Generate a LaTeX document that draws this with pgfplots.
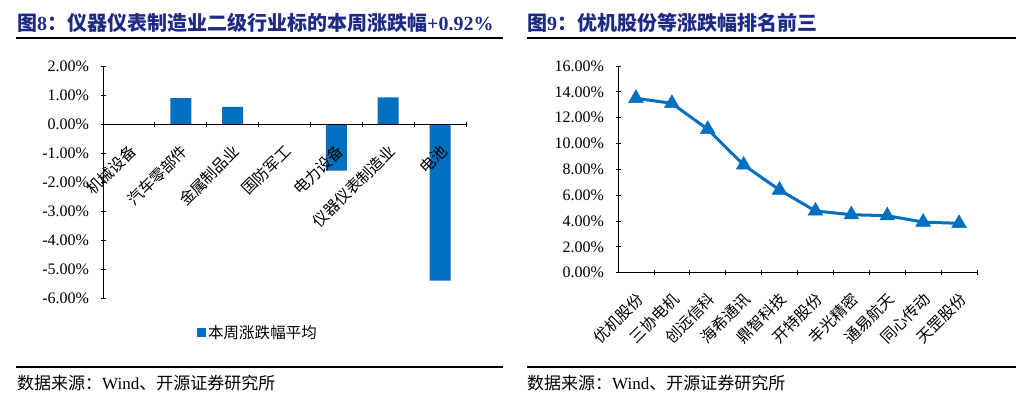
\documentclass[border=0pt]{standalone}
\usepackage{fontspec}
\setmainfont{Liberation Serif}
\newfontfamily\cjk{Noto Sans CJK SC}
\usepackage{pgfplots}
\pgfplotsset{compat=1.18}

\definecolor{barblue}{HTML}{0070C0}
\definecolor{titleblue}{HTML}{1F2A86}

\pgfplotsset{
  common/.style={
    scale only axis,
    anchor=north west,
    tick align=inside,
    major tick length=5bp,
    minor tick length=5bp,
    tick style={black, line width=0.8bp},
    major x tick style={draw=none},
    minor x tick style={black, line width=0.8bp},
    /pgf/number format/assume math mode=true,
    yticklabel style={font=\fontsize{16bp}{17bp}\selectfont, xshift=-8bp},
    yticklabel={\pgfmathprintnumber[fixed,fixed zerofill,precision=2]{\tick}\%},
    xticklabel style={font=\cjk\fontsize{15.5bp}{16bp}\selectfont,
      yshift=-19bp, xshift=6.5bp, rotate=45, anchor=east},
  },
  plainlines/.style={
    axis line style={-, black, line width=0.8bp},
    every inner x axis line/.append style={-},
    every outer x axis line/.append style={-},
    every outer y axis line/.append style={-},
  }
}

\begin{document}
\begin{tikzpicture}
\useasboundingbox (0,0) rectangle (1028bp,-403bp);

% titles and rules
\node[anchor=west, inner sep=0, text=titleblue, font=\bfseries\fontsize{20bp}{21bp}\selectfont]
  at (17bp,-23bp) {{\cjk 图}8{\cjk ：仪器仪表制造业二级行业标的本周涨跌幅}+0.92\%};
\node[anchor=west, inner sep=0, text=titleblue, font=\bfseries\fontsize{20bp}{21bp}\selectfont]
  at (527bp,-23bp) {{\cjk 图}9{\cjk ：优机股份等涨跌幅排名前三}};
\draw[line width=1.3bp] (16bp,-38bp) -- (503bp,-38bp);
\draw[line width=1.3bp] (527bp,-38bp) -- (1016bp,-38bp);
\draw[line width=1.3bp] (16bp,-367bp) -- (503bp,-367bp);
\draw[line width=1.3bp] (527bp,-367bp) -- (1016bp,-367bp);
\node[anchor=west, inner sep=0, font=\fontsize{17bp}{18bp}\selectfont]
  at (17bp,-383bp) {{\cjk 数据来源：}Wind{\cjk 、开源证券研究所}};
\node[anchor=west, inner sep=0, font=\fontsize{17bp}{18bp}\selectfont]
  at (527bp,-383bp) {{\cjk 数据来源：}Wind{\cjk 、开源证券研究所}};

% left: bar chart
\begin{axis}[
  common,
  at={(103bp,-66bp)},
  width=363bp, height=232bp,
  axis x line=middle, axis y line=left,
  plainlines,
  axis on top,
  xmin=0, xmax=7, ymin=-6, ymax=2,
  ytick={-6,-5,...,2},
  xtick={0.5,1.5,...,6.5},
  minor xtick={1,...,7},
  xticklabels={机械设备,汽车零部件,金属制品业,国防军工,电力设备,仪器仪表制造业,电池},
  legend style={at={(0.427,-0.15)}, anchor=center, draw=none, fill=none,
    font=\cjk\fontsize{15.5bp}{16bp}\selectfont, inner sep=0pt},
  legend image code/.code={\fill[barblue] (0bp,-4.5bp) rectangle (9bp,4.5bp);},
]
\addplot[ybar, bar width=21bp, bar shift=0pt, fill=barblue, draw=none]
  coordinates {(0.5,0.00) (1.5,0.89) (2.5,0.59) (3.5,-0.03) (4.5,-1.61) (5.5,0.92) (6.5,-5.40)};
\legend{本周涨跌幅平均}
\end{axis}

% right: line chart
\begin{axis}[
  common,
  at={(618bp,-66bp)},
  width=359bp, height=206.7bp,
  axis x line=bottom, axis y line=left,
  plainlines,
  xmin=0, xmax=10, ymin=0, ymax=16,
  ytick={0,2,...,16},
  xtick={0.5,1.5,...,9.5},
  minor xtick={1,...,10},
  xticklabels={优机股份,三协电机,创远信科,海希通讯,鼎智科技,开特股份,丰光精密,通易航天,同心传动,天罡股份},
]
\addplot[barblue, line width=3bp, mark=triangle*, mark size=8.5bp, mark options={fill=barblue, draw=barblue, line width=0.5bp}]
  coordinates {(0.5,13.50) (1.5,13.11) (2.5,11.10) (3.5,8.34) (4.5,6.40) (5.5,4.78) (6.5,4.49) (7.5,4.41) (8.5,3.92) (9.5,3.82)};
\end{axis}
\end{tikzpicture}
\end{document}
